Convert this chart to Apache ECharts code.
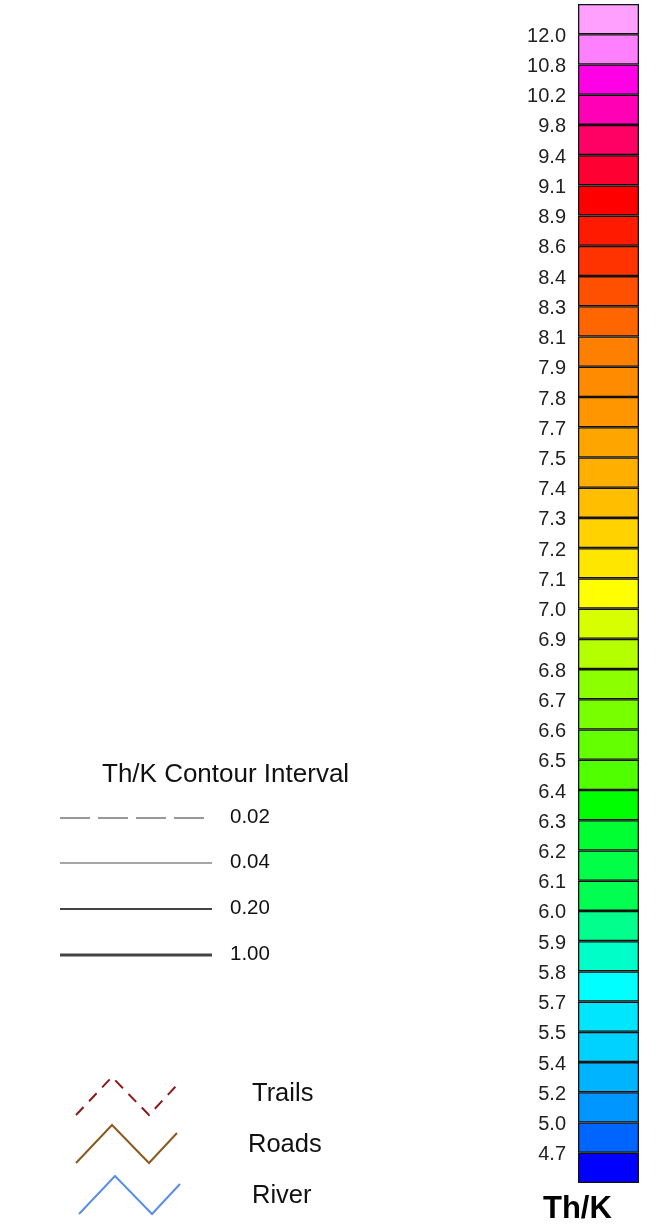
<!DOCTYPE html>
<html>
<head>
<meta charset="utf-8">
<script src="https://cdn.jsdelivr.net/npm/echarts@6/dist/echarts.min.js"></script>
<style>html,body{margin:0;padding:0;background:#fff}#c{width:662px;height:1230px}</style>
</head>
<body>
<div id="c"></div>
<script>
// Boundary labels, bottom to top
var boundaryLabels = ['4.7','5.0','5.2','5.4','5.5','5.7','5.8','5.9','6.0','6.1','6.2','6.3','6.4','6.5','6.6','6.7','6.8','6.9','7.0','7.1','7.2','7.3','7.4','7.5','7.7','7.8','7.9','8.1','8.3','8.4','8.6','8.9','9.1','9.4','9.8','10.2','10.8','12.0'];
// Cell colours, bottom to top
var cellColors = ['#0000FF','#0064FF','#0096FF','#00B4FF','#00D2FF','#00E6FF','#00FFFF','#00FFC8','#00FF8C','#00FF50','#00FF46','#00FF32','#00FF00','#50FF00','#64FF00','#78FF00','#8CFF00','#B4FF00','#D8FF00','#FFFF00','#FFE600','#FFD200','#FFBE00','#FFAF00','#FFA500','#FF9600','#FF8C00','#FF8000','#FF6600','#FF5000','#FF3300','#FF1A00','#FF0000','#FF0032','#FF0064','#FF00B4','#FF00E6','#FF80FF','#FFA0FF'];
var contourIntervals = ['0.02','0.04','0.20','1.00'];
var lineFeatures = ['Trails','Roads','River'];

var cellIdx = cellColors.map(function(c,i){return i;});
var cellData = cellColors.map(function(c){return {value:1, itemStyle:{color:c}};});

var chart = echarts.init(document.getElementById('c'));
var F = 'Liberation Sans, Arial, sans-serif';

var graphics = [];
graphics.push({type:'text', left:102, top:762, style:{text:'Th/K Contour Interval', font:'26px '+F, fill:'#111'}});
var lineStyles = [
  {y:818, x2:205, w:1.4, c:'#777', dash:[30,8]},
  {y:863, x2:212, w:1.3, c:'#888', dash:null},
  {y:909, x2:212, w:2.2, c:'#444', dash:null},
  {y:955, x2:212, w:3.2, c:'#444', dash:null}
];
lineStyles.forEach(function(s,i){
  graphics.push({type:'line', shape:{x1:60,y1:s.y,x2:s.x2,y2:s.y}, style:{stroke:s.c, lineWidth:s.w, lineDash:s.dash}});
  graphics.push({type:'text', left:230, top:s.y-11, style:{text:contourIntervals[i], font:'20.5px '+F, fill:'#111'}});
});
var feat = [
  {y0:1115, c:'#8B1A1A', dash:[11,8], w:2, ty:1081, tx:252},
  {y0:1163, c:'#8B5A1E', dash:null, w:2, ty:1132, tx:248},
  {y0:1214, c:'#5B8EE6', dash:null, w:2, ty:1183, tx:252}
];
feat.forEach(function(f,i){
  var dx = (i===2)?3:0;
  graphics.push({type:'polyline', shape:{points:[[76+dx,f.y0],[112+dx,f.y0-38],[149+dx,f.y0],[177+dx,f.y0-30]]}, style:{stroke:f.c, lineWidth:f.w, lineDash:f.dash, fill:null}});
  graphics.push({type:'text', left:f.tx, top:f.ty, style:{text:lineFeatures[i], font:'25.5px '+F, fill:'#111'}});
});
graphics.push({type:'text', left:543, top:1194, style:{text:'Th/K', font:'bold 31px '+F, fill:'#000'}});

chart.setOption({
  animation:false,
  grid:{left:578, top:4, width:61, height:1179},
  xAxis:{type:'value', min:0, max:1, show:false},
  yAxis:[
    {type:'category', data:cellIdx, show:false, boundaryGap:true},
    {type:'value', min:0, max:39, interval:1, position:'left',
     axisLine:{show:false}, axisTick:{show:false}, splitLine:{show:false},
     axisLabel:{margin:12, fontSize:20, fontFamily:F, color:'#222',
       rich:{a:{fontSize:20, fontFamily:F, color:'#222', padding:[4,0,0,0]}},
       formatter:function(v){var k=Math.round(v); return (k>=1 && k<=38)?('{a|'+boundaryLabels[k-1]+'}'):'';}}}
  ],
  series:[{type:'bar', yAxisIndex:0, data:cellData, barCategoryGap:'0%', barWidth:'100%',
    itemStyle:{borderColor:'#111', borderWidth:1.3}}],
  graphic:graphics
});
</script>
</body>
</html>
